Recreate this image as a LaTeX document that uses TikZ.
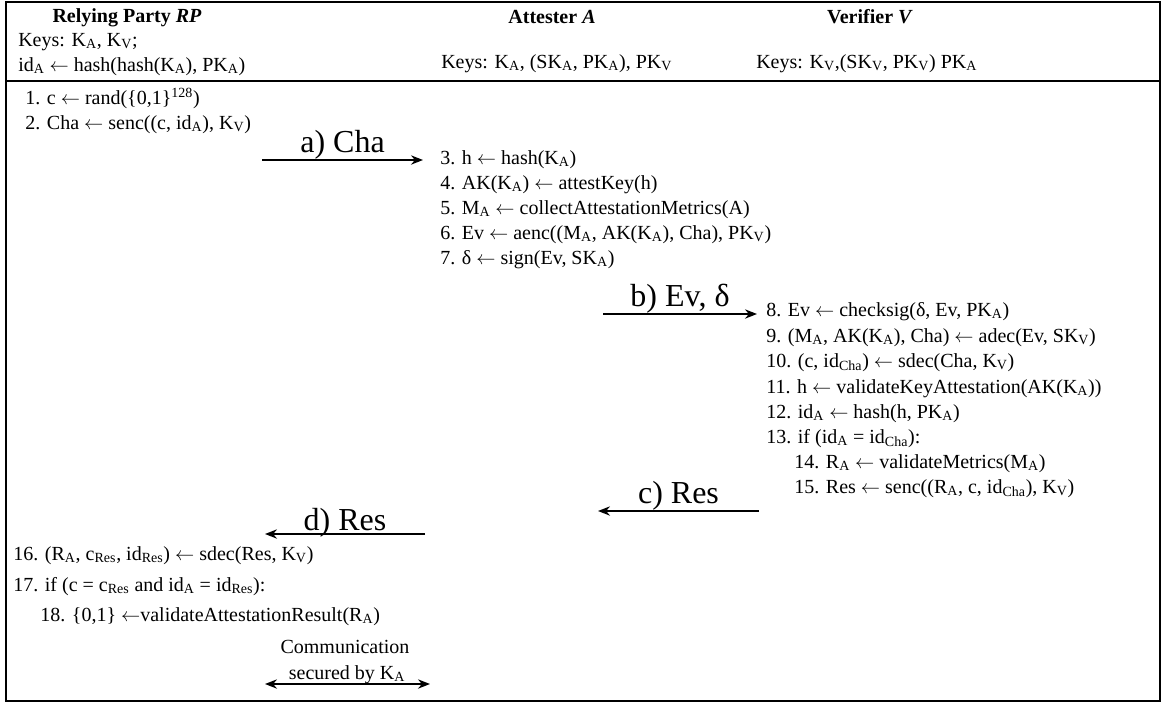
\documentclass[tikz,border=0pt]{standalone}
\usepackage{fontspec}
\setmainfont{Liberation Serif}
\usetikzlibrary{arrows.meta}
\newcommand{\lo}[1]{\textsubscript{#1}}

\begin{document}
\begin{tikzpicture}[x=0.75pt,y=-0.75pt]
	\useasboundingbox (0,0) rectangle (1167,704);
	\draw [line width=1.9pt] (6,2) rectangle (1160,701);
	\draw [line width=1.9pt] (6,81) -- (1160,81);

	\begin{scope}[every node/.style={anchor=base,inner sep=0pt,font=\fontsize{15}{18}\selectfont\bfseries}]
		\node (rp) at (127,22) {Relying Party \textit{RP}};
		\node (att) at (552,23) {Attester \textit{A}};
		\node (ver) at (870,23) {Verifier \textit{V}};
	\end{scope}

	\begin{scope}[every node/.style={anchor=base west,inner sep=0pt,font=\fontsize{15}{18}\selectfont}]
		\node (rpkeys) at (18,46) {Keys: K\lo{A}, K\lo{V};};
		\node (rpid) at (18,71) {id\lo{A} $\gets$ hash(hash(K\lo{A}), PK\lo{A})};
		\node (attkeys) at (441,68) {Keys: K\lo{A}, (SK\lo{A}, PK\lo{A}), PK\lo{V}};
		\node (verkeys) at (756,68) {Keys: K\lo{V},(SK\lo{V}, PK\lo{V}) PK\lo{A}};

		\node (s1) at (25,104) {1. c $\gets$ rand(\{0,1\}\textsuperscript{128})};
		\node (s2) at (25,129) {2. Cha $\gets$ senc((c, id\lo{A}), K\lo{V})};

		\node (s3) at (440,164) {3. h $\gets$ hash(K\lo{A})};
		\node (s4) at (440,189) {4. AK(K\lo{A}) $\gets$ attestKey(h)};
		\node (s5) at (440,214) {5. M\lo{A} $\gets$ collectAttestationMetrics(A)};
		\node (s6) at (440,239) {6. Ev $\gets$ aenc((M\lo{A}, AK(K\lo{A}), Cha), PK\lo{V})};
		\node (s7) at (440,264) {7. δ $\gets$ sign(Ev, SK\lo{A})};

		\node (s8) at (766,316) {8. Ev $\gets$ checksig(δ, Ev, PK\lo{A})};
		\node (s9) at (766,342) {9. (M\lo{A}, AK(K\lo{A}), Cha) $\gets$ adec(Ev, SK\lo{V})};
		\node (s10) at (766,367) {10. (c, id\lo{Cha}) $\gets$ sdec(Cha, K\lo{V})};
		\node (s11) at (766,393) {11. h $\gets$ validateKeyAttestation(AK(K\lo{A}))};
		\node (s12) at (766,418) {12. id\lo{A} $\gets$ hash(h, PK\lo{A})};
		\node (s13) at (766,443) {13. if (id\lo{A} = id\lo{Cha}):};
		\node (s14) at (794,468) {14. R\lo{A} $\gets$ validateMetrics(M\lo{A})};
		\node (s15) at (794,493) {15. Res $\gets$ senc((R\lo{A}, c, id\lo{Cha}), K\lo{V})};

		\node (s16) at (13,560) {16. (R\lo{A}, c\lo{Res}, id\lo{Res}) $\gets$ sdec(Res, K\lo{V})};
		\node (s17) at (13,591) {17. if (c = c\lo{Res} and id\lo{A} = id\lo{Res}):};
		\node (s18) at (40,621) {18. \{0,1\} $\gets$validateAttestationResult(R\lo{A})};

		\node [anchor=base] (comm) at (345,653) {Communication};
		\node [anchor=base] (sec) at (347,679) {secured by K\lo{A}};
	\end{scope}

	% message ends
	\coordinate (cha0) at (262,160);
	\coordinate (cha1) at (423,160);
	\coordinate (ev0) at (603,314);
	\coordinate (ev1) at (757,314);
	\coordinate (res0) at (759,511);
	\coordinate (res1) at (598,511);
	\coordinate (resd0) at (425,534);
	\coordinate (resd1) at (265,534);
	\coordinate (sec0) at (265,684);
	\coordinate (sec1) at (430,684);

	\begin{scope}[every edge/.style={draw=black,line width=1.1pt},
		every node/.style={inner sep=0pt,font=\fontsize{24}{28}\selectfont}]
		\path [-{Stealth[length=9pt,width=7pt]}] (cha0) edge node [above] {a) Cha} (cha1);
		\path [-{Stealth[length=9pt,width=7pt]}] (ev0) edge node [above] {b) Ev, δ} (ev1);
		\path [-{Stealth[length=9pt,width=7pt]}] (res0) edge node [above] {c) Res} (res1);
		\path [-{Stealth[length=9pt,width=7pt]}] (resd0) edge node [above,yshift=-3pt] {d) Res} (resd1);
		\path [{Stealth[length=9pt,width=7pt]}-{Stealth[length=9pt,width=7pt]}] (sec0) edge (sec1);
	\end{scope}
\end{tikzpicture}
\end{document}
